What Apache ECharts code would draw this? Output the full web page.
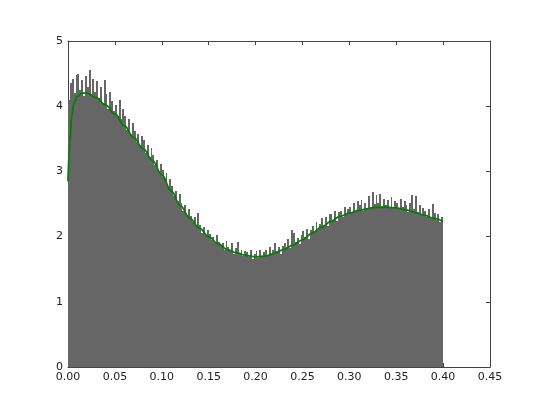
<!DOCTYPE html>
<html>
<head>
<meta charset="utf-8">
<script src="https://cdn.jsdelivr.net/npm/echarts@6/dist/echarts.min.js"></script>
<style>
  html, body { margin: 0; padding: 0; background: #fff; }
  #chart { width: 545px; height: 409px; }
</style>
</head>
<body>
<div id="chart"></div>
<script>
// histogram: 200 bins of width 0.002 on [0, 0.4]
const binWidth = 0.002
const histValues = [
  4.10, 4.35, 4.42, 4.20, 4.48,
  4.50, 4.25, 4.40, 4.15, 4.47,
  4.30, 4.55, 4.18, 4.42, 4.22,
  4.38, 4.12, 4.30, 4.05, 4.40,
  4.18, 3.96, 4.22, 4.08, 3.92,
  4.02, 3.85, 4.10, 3.80, 3.95,
  3.85, 3.64, 3.80, 3.58, 3.74,
  3.62, 3.45, 3.58, 3.40, 3.55,
  3.48, 3.28, 3.40, 3.22, 3.36,
  3.25, 3.10, 3.18, 3.00, 3.12,
  3.02, 2.90, 2.98, 2.78, 2.88,
  2.78, 2.62, 2.70, 2.55, 2.66,
  2.52, 2.40, 2.48, 2.33, 2.42,
  2.32, 2.22, 2.30, 2.16, 2.36,
  2.18, 2.06, 2.14, 2.02, 2.10,
  2.04, 1.95, 2.00, 1.90, 2.02,
  1.92, 1.85, 1.90, 1.80, 1.94,
  1.84, 1.78, 1.90, 1.74, 1.82,
  1.92, 1.74, 1.80, 1.70, 1.78,
  1.76, 1.68, 1.80, 1.66, 1.74,
  1.78, 1.67, 1.80, 1.70, 1.76,
  1.80, 1.72, 1.84, 1.74, 1.79,
  1.90, 1.78, 1.84, 1.74, 1.86,
  1.90, 1.84, 1.96, 1.82, 2.10,
  2.06, 1.92, 1.98, 1.88, 2.02,
  2.08, 2.00, 2.12, 1.96, 2.10,
  2.16, 2.08, 2.22, 2.10, 2.20,
  2.28, 2.18, 2.30, 2.16, 2.34,
  2.34, 2.26, 2.40, 2.24, 2.38,
  2.40, 2.30, 2.46, 2.34, 2.42,
  2.46, 2.36, 2.52, 2.38, 2.55,
  2.48, 2.56, 2.40, 2.52, 2.44,
  2.62, 2.46, 2.68, 2.50, 2.64,
  2.52, 2.66, 2.44, 2.58, 2.48,
  2.56, 2.46, 2.60, 2.44, 2.54,
  2.52, 2.42, 2.58, 2.46, 2.54,
  2.48, 2.38, 2.52, 2.64, 2.42,
  2.62, 2.36, 2.48, 2.34, 2.44,
  2.40, 2.30, 2.42, 2.28, 2.50,
  2.36, 2.26, 2.34, 2.22, 2.30
]

// fitted curve (green)
const fitX = [0, 0.002, 0.004, 0.006, 0.01, 0.015, 0.02, 0.03, 0.04, 0.05,
  0.06, 0.07, 0.08, 0.09, 0.10, 0.11, 0.12, 0.13, 0.14, 0.15,
  0.16, 0.17, 0.18, 0.19, 0.20, 0.21, 0.22, 0.23, 0.24, 0.25,
  0.26, 0.27, 0.28, 0.29, 0.30, 0.31, 0.32, 0.33, 0.34, 0.35,
  0.36, 0.37, 0.38, 0.39, 0.40]
const fitY = [2.85, 3.45, 3.85, 4.03, 4.15, 4.20, 4.20, 4.13, 4.02, 3.88,
  3.70, 3.52, 3.35, 3.17, 2.95, 2.70, 2.47, 2.28, 2.13, 2.00,
  1.89, 1.80, 1.75, 1.71, 1.69, 1.70, 1.74, 1.80, 1.87, 1.95,
  2.05, 2.14, 2.23, 2.31, 2.36, 2.40, 2.43, 2.45, 2.45, 2.44,
  2.41, 2.37, 2.33, 2.28, 2.23]

const xTicks = { min: 0, max: 0.45, interval: 0.05 }
const yTicks = { min: 0, max: 5, interval: 1 }

const histData = histValues.map((v, i) => [i * binWidth, v])
const fitData = fitX.map((x, i) => [x, fitY[i]])

const frameColor = '#444'
const font = 'DejaVu Sans'

const chart = echarts.init(document.getElementById('chart'))

function axis(pos, range, showLabel, formatter) {
  return {
    type: 'value',
    position: pos,
    min: range.min,
    max: range.max,
    interval: range.interval,
    axisLine: { show: true, onZero: false, lineStyle: { color: frameColor, width: 1 } },
    axisTick: { show: true, inside: true, length: 4, lineStyle: { color: frameColor } },
    splitLine: { show: false },
    axisLabel: {
      show: showLabel, color: '#222', fontSize: 11, fontFamily: font, margin: 5,
      formatter: formatter
    }
  }
}

// one rect per bin, placed through the axes, snapped to whole pixels so no seams show
function renderBin(params, api) {
  const x0 = api.value(0)
  const top = api.coord([x0, api.value(1)])
  const base = api.coord([x0 + binWidth, 0])
  const left = Math.round(top[0])
  const right = Math.round(base[0])
  const y = Math.round(top[1])
  return {
    type: 'rect',
    shape: { x: left, y: y, width: right - left, height: Math.round(base[1]) - y },
    style: { fill: '#666' }
  }
}

chart.setOption({
  animation: false,
  grid: { left: 68, right: 55, top: 41, bottom: 42 },
  xAxis: [
    axis('bottom', xTicks, true, v => v.toFixed(2)),
    axis('top', xTicks, false)
  ],
  yAxis: [
    axis('left', yTicks, true),
    axis('right', yTicks, false)
  ],
  series: [
    {
      name: 'hist',
      type: 'custom',
      renderItem: renderBin,
      encode: { x: 0, y: 1 },
      data: histData,
      z: 2
    },
    {
      name: 'fit',
      type: 'line',
      data: fitData,
      symbol: 'none',
      smooth: 0.4,
      smoothMonotone: 'x',
      lineStyle: { color: '#008000', width: 1.8 },
      z: 3
    }
  ]
})
</script>
</body>
</html>
